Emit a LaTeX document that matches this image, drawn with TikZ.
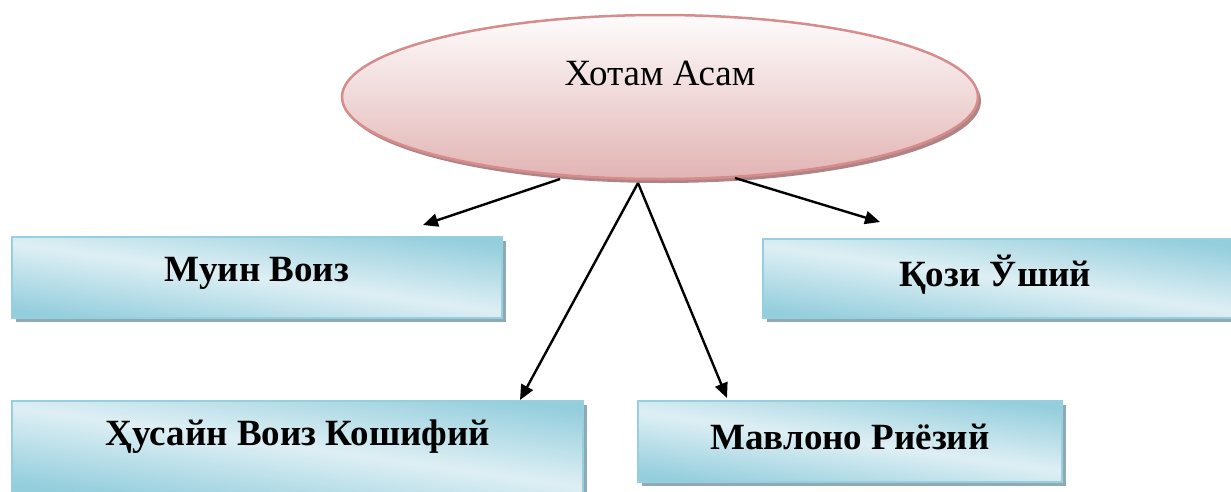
\documentclass[tikz,border=0pt]{standalone}
\usepackage{fontspec}
\setmainfont{Liberation Serif}
\usetikzlibrary{shapes.geometric,arrows.meta,shadows}
\definecolor{ellborder}{RGB}{214,140,140}
\definecolor{elltop}{RGB}{254,252,252}
\definecolor{ellbot}{RGB}{226,180,180}
\definecolor{ellshadow}{RGB}{176,132,132}
\definecolor{boxdark}{RGB}{148,206,221}
\definecolor{boxlight}{RGB}{222,239,244}
\definecolor{boxborder}{RGB}{150,207,222}
\definecolor{boxshadow}{RGB}{142,170,180}
\tikzset{
  namebox/.style={rectangle, draw=boxborder, line width=2pt,
    top color=boxdark, bottom color=boxdark, middle color=boxlight, shading angle=-8,
    drop shadow={shadow xshift=4pt, shadow yshift=-4pt, fill=boxshadow, opacity=1},
    inner sep=0pt},
  nametext/.style={font=\fontsize{37}{40}\selectfont\bfseries},
  link/.style={line width=2.4pt, -{Triangle[length=15pt,width=13pt]}},
}
\begin{document}
\begin{tikzpicture}[x=1pt,y=-1pt]
\useasboundingbox (0,0) rectangle (1231,491);
% central ellipse
\node[ellipse, draw=ellborder, line width=2.5pt, top color=elltop, bottom color=ellbot,
  minimum width=636pt, minimum height=164pt, inner sep=0pt,
  drop shadow={shadow xshift=3pt, shadow yshift=-4pt, fill=ellshadow, opacity=1}]
  (e) at (660,97) {};
\node[font=\fontsize{37}{40}\selectfont] (et) at (660,73) {Хотам Асам};
% boxes
\node[namebox, minimum width=490pt, minimum height=81pt] (b1) at (257,277.5) {};
\node[nametext] (t1) at (257,273) {Муин Воиз};
\node[namebox, minimum width=472pt, minimum height=79pt] (b2) at (999,278.5) {};
\node[nametext] (t2) at (995,275) {Қози Ўший};
\node[namebox, minimum width=571pt, minimum height=92pt] (b3) at (297.5,447) {};
\node[nametext] (t3) at (298,437) {Ҳусайн Воиз Кошифий};
\node[namebox, minimum width=424pt, minimum height=81pt] (b4) at (850,441.5) {};
\node[nametext] (t4) at (850,437) {Мавлоно Риёзий};
% connector ends
\coordinate (s1) at (560,179);
\coordinate (s2) at (638,183);
\coordinate (s3) at (735,178);
\coordinate (a1) at (423,225);
\coordinate (a2) at (520,400);
\coordinate (a3) at (727,398);
\coordinate (a4) at (880,222);
\draw[link] (s1) -- (a1);
\draw[link] (s2) -- (a2);
\draw[link] (s2) -- (a3);
\draw[link] (s3) -- (a4);
\end{tikzpicture}
\end{document}
